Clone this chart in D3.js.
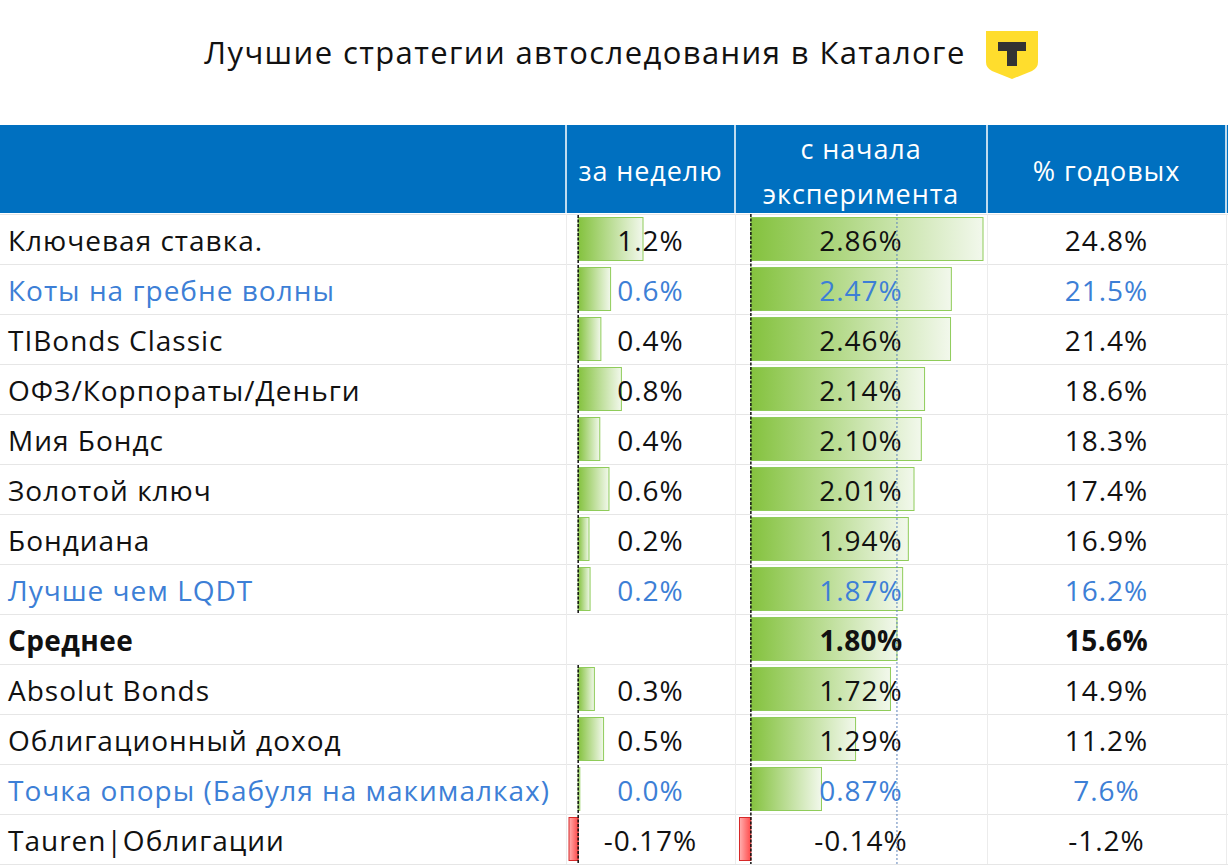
<!DOCTYPE html>
<html>
<head>
<meta charset="utf-8">
<script src="https://cdn.jsdelivr.net/npm/d3@7"></script>
<style>
  html, body { margin: 0; padding: 0; background: #fff; }
  svg { display: block; }
</style>
</head>
<body>
<svg id="chart"></svg>
<script>
// table data
const names = [
  "Ключевая ставка.", "Коты на гребне волны", "TIBonds Classic", "ОФЗ/Корпораты/Деньги",
  "Мия Бондс", "Золотой ключ", "Бондиана", "Лучше чем LQDT", "Среднее",
  "Absolut Bonds", "Облигационный доход", "Точка опоры (Бабуля на макималках)", "Tauren|Облигации"
];
const weekValues = [1.2, 0.6, 0.42, 0.8, 0.4, 0.57, 0.2, 0.22, null, 0.3, 0.47, 0.03, -0.17];
const weekLabels = ["1.2%", "0.6%", "0.4%", "0.8%", "0.4%", "0.6%", "0.2%", "0.2%", "", "0.3%", "0.5%", "0.0%", "-0.17%"];
const expValues = [2.86, 2.47, 2.46, 2.14, 2.10, 2.01, 1.94, 1.87, 1.80, 1.72, 1.29, 0.87, -0.14];
const annualValues = [24.8, 21.5, 21.4, 18.6, 18.3, 17.4, 16.9, 16.2, 15.6, 14.9, 11.2, 7.6, -1.2];
const highlighted = ["Коты на гребне волны", "Лучше чем LQDT", "Точка опоры (Бабуля на макималках)"];
const averageName = "Среднее";
const headers = [[""], ["за неделю"], ["с начала", "эксперимента"], ["% годовых"]];
const title = "Лучшие стратегии автоследования в Каталоге";

const W = 1228, H = 867;
const FONT = "'Open Sans', 'DejaVu Sans', sans-serif";
const svg = d3.select('#chart').attr('width', W).attr('height', H)
    .style('font-family', FONT);

const data = names.map((name, i) => ({
  name, i,
  week: weekValues[i], weekLabel: weekLabels[i],
  exp: expValues[i], annual: annualValues[i]
}));

// column layout
const colEdges = [0, 566, 735, 987, 1226];
const headTop = 125, headBottom = 213;
const rowTop = 214, rowH = 50;
const y = d3.scaleBand().domain(d3.range(names.length))
    .range([rowTop, rowTop + rowH * names.length]);

// bar scales
const xWeek = d3.scaleLinear().domain([-0.17, 1.2]).range([569, 643]);
const xExp = d3.scaleLinear().domain([-0.14, 2.86]).range([739.5, 983]);

// gradients
const defs = svg.append('defs');
function grad(id, c0, c1) {
  const g = defs.append('linearGradient').attr('id', id).attr('x1', 0).attr('x2', 1).attr('y1', 0).attr('y2', 0);
  g.append('stop').attr('offset', '0%').attr('stop-color', c0);
  g.append('stop').attr('offset', '100%').attr('stop-color', c1);
}
grad('gGreen', '#84c23e', '#f2f8ec');
grad('gRed', '#ffb0b0', '#ff4a4a');

// title + logo
svg.append('text').attr('x', 585).attr('y', 64).attr('text-anchor', 'middle')
    .style('font-size', '31px').style('letter-spacing', '1.4px').attr('fill', '#111').text(title);

const logo = svg.append('g').attr('transform', 'translate(986,31)');
logo.append('path').attr('d', 'M0,0 H52 V31 Q52,37 46,40 L26,48 L6,40 Q0,37 0,31 Z').attr('fill', '#ffdd2d');
logo.append('path').attr('d', 'M12,11 H40 V20 H31 V35 H21 V20 H12 Z').attr('fill', '#333');

// header band
svg.append('rect').attr('x', 0).attr('y', headTop).attr('width', W).attr('height', headBottom - headTop)
    .attr('fill', '#0070c0');
svg.selectAll('line.hsep').data(colEdges.slice(1)).join('line').attr('class', 'hsep')
    .attr('x1', d => d).attr('x2', d => d).attr('y1', headTop).attr('y2', headBottom)
    .attr('stroke', '#fff').attr('stroke-width', 1.5);
headers.forEach((lines, i) => {
  const cx = (colEdges[i] + colEdges[i + 1]) / 2;
  const mid = (headTop + headBottom) / 2;
  lines.forEach((t, j) => {
    svg.append('text').attr('x', cx)
       .attr('y', mid + 12 + (j - (lines.length - 1) / 2) * 45)
       .attr('text-anchor', 'middle').style('font-size', '27px').style('letter-spacing', '0.9px')
       .attr('fill', '#fff').text(t);
  });
});

// grid
const grid = svg.append('g');
grid.selectAll('line.rl').data(d3.range(names.length + 1)).join('line')
    .attr('x1', 0).attr('x2', W)
    .attr('y1', i => rowTop + i * rowH + 0.5).attr('y2', i => rowTop + i * rowH + 0.5)
    .attr('stroke', '#e6e6e6');
grid.selectAll('line.cl').data(colEdges.slice(1)).join('line')
    .attr('x1', d => d + 0.5).attr('x2', d => d + 0.5).attr('y1', rowTop).attr('y2', rowTop + rowH * names.length)
    .attr('stroke', '#ececec');

// bars
function barX(scale, v) { return v >= 0 ? scale(0) : scale(v); }
function barW(scale, v) { return Math.max(1, Math.abs(scale(v) - scale(0))); }

const rows = svg.append('g').selectAll('g').data(data).join('g')
    .attr('transform', d => `translate(0,${y(d.i)})`);

rows.filter(d => d.week !== null).append('rect')
    .attr('x', d => barX(xWeek, d.week))
    .attr('y', 3.5).attr('height', rowH - 7)
    .attr('width', d => barW(xWeek, d.week))
    .attr('fill', d => d.week < 0 ? 'url(#gRed)' : 'url(#gGreen)')
    .attr('stroke', d => d.week < 0 ? '#d62828' : '#8fcc5a').attr('stroke-width', 1);

rows.append('rect')
    .attr('x', d => barX(xExp, d.exp))
    .attr('y', 3.5).attr('height', rowH - 7)
    .attr('width', d => barW(xExp, d.exp))
    .attr('fill', d => d.exp < 0 ? 'url(#gRed)' : 'url(#gGreen)')
    .attr('stroke', d => d.exp < 0 ? '#d62828' : '#8fcc5a').attr('stroke-width', 1);

// axes (dashed zero lines)
rows.filter(d => d.week !== null).append('line')
    .attr('x1', xWeek(0)).attr('x2', xWeek(0)).attr('y1', 1).attr('y2', rowH)
    .attr('stroke', '#111').attr('stroke-width', 1.5).attr('stroke-dasharray', '3,1.5');
svg.append('line').attr('x1', xExp(0)).attr('x2', xExp(0))
    .attr('y1', rowTop).attr('y2', rowTop + rowH * names.length)
    .attr('stroke', '#111').attr('stroke-width', 1.5).attr('stroke-dasharray', '3,1.5');

// average marker
const avg = expValues[names.indexOf(averageName)];
svg.append('line').attr('x1', xExp(avg)).attr('x2', xExp(avg))
    .attr('y1', rowTop).attr('y2', rowTop + rowH * names.length)
    .attr('stroke', '#5a80b8').attr('stroke-width', 1).attr('stroke-dasharray', '2,2');

// texts
const color = d => highlighted.includes(d.name) ? '#3d7fd6' : '#111';
const weight = d => d.name === averageName ? 'bold' : 'normal';
const baseY = 37;
function cellText(x, anchor, fn) {
  rows.append('text').attr('x', x).attr('y', baseY).attr('text-anchor', anchor)
      .style('font-size', '28px').style('letter-spacing', d => d.name === averageName ? '0.4px' : '1px')
      .attr('fill', color).attr('font-weight', weight).text(fn);
}
cellText(8, 'start', d => d.name);
cellText((colEdges[1] + colEdges[2]) / 2, 'middle', d => d.weekLabel);
cellText((colEdges[2] + colEdges[3]) / 2, 'middle', d => d.exp.toFixed(2) + '%');
cellText((colEdges[3] + colEdges[4]) / 2, 'middle', d => d.annual.toFixed(1) + '%');
</script>
</body>
</html>
